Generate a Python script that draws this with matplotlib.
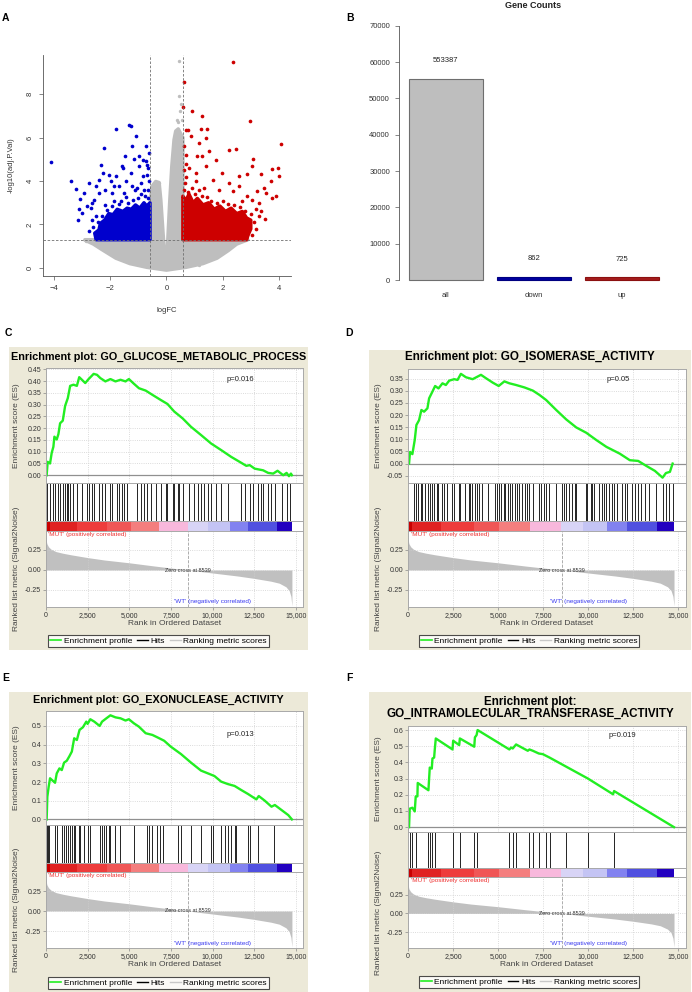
import matplotlib
matplotlib.use("Agg")
import matplotlib.pyplot as plt
from matplotlib.lines import Line2D
from matplotlib.patches import Rectangle

plt.rcParams['font.family'] = ['Liberation Sans', 'DejaVu Sans']

# ---------------- data: volcano (A) ----------------
# outline of the dense grey cloud (logFC, -log10 adj.P)
GRAY_CLOUD_X = [-2.9, -0.585, -0.585, -0.52, -0.38, -0.26, -0.2, -0.12, -0.05, 0.01, 0.06, 0.12, 0.19,
                0.27, 0.33, 0.42, 0.5, 0.585, 0.585, 2.9, 2.8, 2.5, 2.2, 1.8, 1.3, 0.7, 0.0, -0.7,
                -1.3, -1.8, -2.3, -2.6, -2.9]
GRAY_CLOUD_Y = [1.3, 1.3, 2.8, 3.75, 3.98, 3.93, 3.13, 1.6, 0.37, 0.37, 1.6, 3.13, 4.67,
                5.9, 6.3, 6.4, 6.2, 6.0, 1.3, 1.3, 1.25, 1.1, 0.8, 0.45, 0.2, 0.03, -0.1, 0.03,
                0.2, 0.45, 0.85, 1.1, 1.28]
# dense significant blocks
DOWN_CLOUD_X = [-2.5, -2.55, -2.4, -2.35, -2.2, -2.05, -1.9, -1.75, -1.55, -1.4, -1.25, -1.1, -0.95,
                -0.8, -0.7, -0.585, -0.585]
DOWN_CLOUD_Y = [1.3, 1.6, 1.75, 2.05, 2.2, 2.5, 2.45, 2.7, 2.6, 2.75, 2.7, 2.9, 2.75,
                3.0, 2.85, 3.0, 1.3]
UP_CLOUD_X = [0.585, 0.585, 0.7, 0.8, 0.95, 1.1, 1.3, 1.5, 1.7, 1.9, 2.1, 2.3, 2.5, 2.7, 2.85, 3.0,
              3.0, 2.9, 2.85]
UP_CLOUD_Y = [1.3, 3.3, 3.1, 3.4, 3.0, 3.2, 2.9, 3.0, 2.7, 2.85, 2.6, 2.75, 2.5, 2.6, 2.3, 2.2,
              1.8, 1.5, 1.3]
# scattered points outside the dense blocks
DOWN_X = [-4.11, -3.40, -3.22, -3.08, -3.10, -2.93, -2.75, -2.57, -2.84, -2.69, -2.39, -2.33, -2.22,
          -2.27, -2.04, -1.98, -1.86, -1.80, -1.78, -1.59, -1.54, -1.47, -1.33, -1.27, -1.21, -1.15,
          -1.07, -0.97, -0.91, -0.85, -0.73, -0.83, -0.71, -0.68, -0.62, -1.27, -1.45, -1.68, -1.92,
          -2.39, -2.51, -2.99, -3.16, -2.63, -0.97, -1.21, -1.11, -0.79, -1.50, -2.18, -2.51,
          -2.45, -2.3, -2.1, -1.95, -1.7, -1.6, -1.35, -1.2, -1.0, -0.9, -0.75, -0.65, -0.62, -0.66,
          -1.45, -1.85, -2.6, -2.75, -2.65, -2.2, -0.7, -0.65, -1.05]
DOWN_Y = [4.87, 3.98, 3.63, 3.16, 2.70, 3.44, 3.90, 3.13, 2.83, 2.75, 4.06, 4.72, 5.51,
          4.39, 4.29, 3.98, 3.75, 6.39, 4.21, 4.70, 4.59, 5.13, 6.59, 6.54, 5.59, 5.01,
          6.05, 4.67, 3.90, 4.21, 5.59, 4.98, 4.90, 4.75, 5.28, 4.36, 3.98, 3.75, 3.44,
          3.44, 3.75, 2.52, 2.21, 2.98, 5.13, 3.75, 3.59, 3.59, 3.44, 3.59, 2.37,
          2.1, 2.4, 2.65, 2.85, 2.95, 3.1, 3.0, 3.15, 3.2, 3.4, 3.3, 3.6, 4.0, 3.2,
          3.25, 3.1, 1.9, 1.7, 2.2, 2.9, 4.3, 4.6, 3.7]
UP_X = [2.37, 0.63, 0.59, 0.90, 1.26, 2.96, 0.69, 0.78, 1.22, 1.46, 0.86, 1.40, 1.16, 4.06, 2.23,
        2.46, 0.63, 0.69, 1.10, 1.28, 1.75, 3.08, 3.06, 3.77, 3.98, 2.58, 2.88, 3.35, 4.00, 3.71,
        1.97, 1.64, 2.23, 2.35, 3.23, 3.47, 3.53, 3.77, 3.89, 3.29, 3.06, 3.51, 3.35, 2.82, 1.87,
        1.40, 1.04, 1.52, 2.58, 2.88,
        0.62, 0.65, 0.7, 0.75, 0.9, 1.0, 1.15, 1.25, 1.45, 1.6, 1.8, 2.0, 2.2, 2.4, 2.6, 2.8, 3.0,
        3.1, 3.2, 3.05, 0.62, 0.68, 0.8, 1.05, 1.35, 2.7, 3.2, 3.3]
UP_Y = [9.48, 8.54, 7.43, 7.20, 7.00, 6.77, 6.36, 6.36, 6.39, 6.39, 6.05, 5.98, 5.74, 5.70, 5.44,
        5.47, 5.59, 5.21, 5.13, 5.13, 4.98, 5.01, 4.70, 4.55, 4.59, 4.24, 4.33, 4.33, 4.21, 3.98,
        4.36, 4.06, 3.90, 3.52, 3.52, 3.67, 3.44, 3.21, 3.29, 2.98, 3.13, 2.24, 2.60, 1.37, 3.59,
        4.67, 4.36, 5.36, 3.75, 3.29,
        3.6, 3.9, 4.2, 3.5, 3.7, 3.4, 3.6, 3.3, 3.25, 3.1, 3.0, 3.1, 2.95, 2.9, 2.8, 2.6, 2.5,
        2.1, 1.8, 1.5, 4.5, 4.8, 4.6, 4.0, 3.7, 3.1, 2.7, 2.4]
NS_X = [0.45, 0.45, 0.53, 0.39, 0.47, 0.42, 0.55, -2.87, -0.38, -0.28, 2.23, 1.16]
NS_Y = [9.51, 7.90, 7.56, 6.82, 7.2, 6.7, 6.8, 1.26, 3.93, 3.93, 0.98, 0.14]

# ---------------- data: gene counts (B) ----------------
COUNT_GROUPS = ["all", "down", "up"]
COUNT_VALUES = [55338, 862, 725]
COUNT_LABELS = ["553387", "862", "725"]

# ---------------- data: GSEA (C-F) ----------------
N_GENES = 14760
ZERO_CROSS = 8539
RANK_POS = [0, 50, 150, 300, 600, 1000, 1500, 2500, 3500, 5000, 6500, 7500, 8539, 9500, 10500,
            11500, 12500, 13500, 14000, 14400, 14600, 14700, 14760]
RANK_METRIC = [0.39, 0.33, 0.29, 0.26, 0.23, 0.21, 0.19, 0.155, 0.125, 0.09, 0.05, 0.025, 0.0, -0.025,
               -0.05, -0.075, -0.105, -0.14, -0.165, -0.21, -0.26, -0.33, -0.45]
BAND_EDGES = [0, 242, 1853, 3666, 5075, 6787, 8499, 9707, 11017, 12124, 13836, 14760]

C_TITLE = "Enrichment plot: GO_GLUCOSE_METABOLIC_PROCESS"
C_ES_RANK = [40, 101, 242, 342, 443, 504, 644, 745, 846, 1007, 1148, 1309, 1450, 1651, 1853, 1994,
             2155, 2356, 2558, 2860, 3061, 3263, 3565, 3867, 4169, 4471, 4773, 4975, 5277, 5579,
             5982, 6384, 6888, 7291, 7694, 8197, 8701, 9305, 9909, 10513, 11117, 11621, 12024,
             12225, 12527, 13031, 13333, 13635, 13897, 14239, 14441, 14582, 14700, 14760]
C_ES = [0.0, 0.057, 0.05, 0.095, 0.121, 0.164, 0.152, 0.175, 0.221, 0.232, 0.295, 0.328, 0.38, 0.385,
        0.38, 0.417, 0.406, 0.392, 0.409, 0.431, 0.427, 0.413, 0.399, 0.409, 0.399, 0.406, 0.399,
        0.409, 0.389, 0.37, 0.36, 0.342, 0.32, 0.303, 0.271, 0.242, 0.206, 0.171, 0.135, 0.107,
        0.078, 0.057, 0.04, 0.043, 0.028, 0.021, 0.01, 0.007, 0.019, 0.0, 0.01, -0.004, 0.007, 0.0]
C_HITS = [80, 242, 403, 544, 745, 846, 1007, 1148, 1249, 1349, 1450, 1611, 1853, 2155, 2457, 2558,
          2759, 2860, 3162, 3363, 3565, 3867, 3968, 4270, 4370, 4572, 4673, 4874, 5478, 5680, 5881,
          6083, 6284, 6586, 6888, 7190, 7291, 7593, 7694, 7895, 7996, 8198, 8600, 8902, 9103, 9305,
          9506, 9707, 9909, 10211, 10513, 10916, 11721, 11923, 12225, 12426, 12728, 12930, 13031,
          13333, 13534, 13736, 14139, 14441, 14642]
C_P = "p=0.016"

D_TITLE = "Enrichment plot: GO_ISOMERASE_ACTIVITY"
D_ES_RANK = [58, 113, 243, 373, 466, 614, 744, 893, 1078, 1171, 1357, 1505, 1691, 1914, 2100, 2285,
             2563, 2749, 2935, 3213, 3585, 4049, 4327, 4698, 5032, 5348, 5626, 5997, 6461, 6925,
             7296, 7667, 8224, 8781, 9337, 9894, 10451, 11008, 11750, 12307, 12771, 13235, 13699,
             14125, 14311, 14533, 14682]
D_ES = [0.0, 0.048, 0.039, 0.097, 0.159, 0.179, 0.221, 0.214, 0.228, 0.269, 0.297, 0.32, 0.31, 0.331,
        0.324, 0.342, 0.348, 0.345, 0.37, 0.356, 0.348, 0.366, 0.352, 0.334, 0.32, 0.339, 0.331,
        0.324, 0.314, 0.301, 0.283, 0.262, 0.221, 0.182, 0.149, 0.127, 0.097, 0.069, 0.041, 0.014,
        0.011, -0.01, -0.03, -0.058, -0.039, -0.034, 0.0]
D_HITS = [354, 429, 577, 726, 800, 948, 1134, 1227, 1357, 1468, 1598, 1691, 1876, 2025, 2155, 2433,
          2526, 2804, 2897, 3176, 3361, 3454, 3547, 3695, 3825, 3955, 4104, 4438, 4809, 4939, 5032,
          5180, 5310, 5403, 5551, 5681, 5774, 5922, 6052, 6182, 6331, 6479, 6609, 6739, 6925, 7296,
          7407, 7537, 7667, 7816, 8187, 8521, 8651, 8744, 8929, 9113, 9263, 9338, 9857, 9950, 10136,
          10228, 10321, 10600, 10747, 10878, 11008, 11154, 11303, 11435, 11620, 11899, 12047, 12177,
          12456, 12603, 12734, 12919, 13161, 13384, 13755, 14125, 14310, 14497, 14682]
D_P = "p=0.05"

E_TITLE = "Enrichment plot: GO_EXONUCLEASE_ACTIVITY"
E_ES_RANK = [40, 81, 161, 242, 403, 544, 644, 806, 947, 1088, 1249, 1410, 1551, 1692, 1853, 2014,
             2216, 2417, 2497, 2658, 2900, 3222, 3363, 3625, 3867, 4169, 4471, 4773, 4974, 5277,
             5579, 5982, 6384, 6686, 7089, 7492, 8096, 8700, 9305, 9808, 10110, 10513, 10916,
             11319, 11721, 12124, 12627, 12769, 13131, 13534, 13735, 14138, 14541, 14760]
E_ES = [0.0, 0.121, 0.175, 0.22, 0.207, 0.196, 0.246, 0.273, 0.264, 0.304, 0.314, 0.339, 0.363, 0.434,
        0.425, 0.479, 0.493, 0.523, 0.511, 0.536, 0.523, 0.5, 0.523, 0.541, 0.557, 0.546, 0.541,
        0.529, 0.536, 0.514, 0.496, 0.461, 0.452, 0.439, 0.421, 0.389, 0.35, 0.304, 0.261, 0.243,
        0.232, 0.202, 0.189, 0.179, 0.157, 0.136, 0.107, 0.125, 0.1, 0.068, 0.077, 0.05, 0.023, 0.0]
E_HITS = [40, 101, 201, 544, 644, 947, 1088, 1208, 1349, 1450, 1551, 1692, 1752, 1994, 2054, 2256,
          2497, 2618, 3263, 3363, 3464, 3625, 3766, 3867, 4169, 4471, 5277, 6042, 6183, 6384, 6686,
          6848, 7029, 7895, 8096, 8700, 9305, 9909, 10010, 10513, 10714, 10916, 11077, 11319, 11419,
          12124, 12225, 12728, 13695]
E_P = "p=0.013"

F_TITLE = "Enrichment plot:\nGO_INTRAMOLECULAR_TRANSFERASE_ACTIVITY"
F_ES_RANK = [58, 95, 243, 373, 429, 522, 540, 1134, 1171, 1208, 1320, 1357, 1450, 1487, 1542, 2470,
             2507, 2841, 2878, 3676, 3713, 3806, 3862, 5625, 5718, 5811, 5997, 6646, 6739, 6925,
             7259, 7482, 7853, 9987, 11379, 11435, 14757]
F_ES = [0.0, 0.114, 0.12, 0.097, 0.19, 0.19, 0.273, 0.228, 0.3, 0.368, 0.362, 0.424, 0.43, 0.482,
        0.548, 0.48, 0.534, 0.507, 0.548, 0.497, 0.555, 0.569, 0.6, 0.48, 0.492, 0.486, 0.511,
        0.472, 0.48, 0.472, 0.455, 0.451, 0.43, 0.3, 0.203, 0.223, 0.0]
F_HITS = [113, 243, 429, 1134, 1208, 1357, 1505, 2470, 2879, 3676, 3806, 5625, 5811, 5997, 6702,
          6925, 7259, 7667, 7890, 8781, 9987, 11416]
F_P = "p=0.019"

# ---------------- layout / style ----------------
W, H = 692, 992
BEIGE = "#ECE9D8"
ES_GREEN = "#22EE22"
BAND_COLORS = ["#C80000", "#E02222", "#EE3C3C", "#F05656", "#F47E7E", "#F8B8DC", "#D8D4F6",
               "#C4C4F4", "#8282F0", "#5050E0", "#2200C0"]
X_MAX = 15425
X_TICKS = [0, 2500, 5000, 7500, 10000, 12500, 15000]

fig = plt.figure(figsize=(W / 100, H / 100), dpi=100)


def px_axes(x0, y0, x1, y1):
    return fig.add_axes([x0 / W, 1 - y1 / H, (x1 - x0) / W, (y1 - y0) / H])


def gsea_frame(ax):
    for s in ax.spines.values():
        s.set_color("#A8A8A8")
        s.set_linewidth(0.7)
    ax.set_xlim(0, X_MAX)
    ax.tick_params(length=2, width=0.5, color="#888888", labelsize=5, labelcolor="#333333", pad=1.5)


def draw_gsea(lay, title, es_rank, es_val, hits, es_ylim, es_ticks, fmt, ptxt, pxy):
    bx0, by0, bx1, by1 = lay["box"]
    fig.patches.append(Rectangle((bx0 / W, 1 - by1 / H), (bx1 - bx0) / W, (by1 - by0) / H,
                                 transform=fig.transFigure, facecolor=BEIGE, edgecolor="none",
                                 zorder=-5))
    fig.text((bx0 + bx1) / 2 / W, 1 - lay["title_y"] / H, title, ha="center", va="center",
             fontsize=lay["title_fs"], fontweight="bold", linespacing=1.05)
    x0, x1 = lay["x"]
    width = x1 - x0
    lab_x = -(x0 - lay["ylab_x"]) / width

    ax = px_axes(x0, lay["es"][0], x1, lay["es"][1])
    gsea_frame(ax)
    ax.grid(True, ls=":", color="#CFCFCF", lw=0.6)
    ax.axhline(0, color="#909090", lw=0.9)
    ax.plot(es_rank, es_val, color=ES_GREEN, lw=1.7, solid_joinstyle="round")
    ax.set_ylim(*es_ylim)
    ax.set_yticks(es_ticks)
    ax.set_yticklabels([fmt.format(t) for t in es_ticks])
    ax.set_xticks(X_TICKS)
    ax.set_xticklabels([])
    ax.tick_params(axis="x", length=0)
    ax.set_ylabel("Enrichment score (ES)", fontsize=6, color="#444444")
    ax.yaxis.set_label_coords(lab_x, 0.5)
    ax.text(pxy[0], pxy[1], ptxt, transform=ax.transAxes, ha="center", va="center", fontsize=5.5,
            color="#222222")

    axh = px_axes(x0, lay["es"][1], x1, lay["hit"])
    gsea_frame(axh)
    axh.vlines(hits, 0, 1, colors="black", lw=0.6)
    axh.set_ylim(0, 1)
    axh.set_xticks([])
    axh.set_yticks([])

    axc = px_axes(x0, lay["hit"], x1, lay["cb"])
    gsea_frame(axc)
    for i, c in enumerate(BAND_COLORS):
        axc.axvspan(BAND_EDGES[i], BAND_EDGES[i + 1], color=c, lw=0)
    axc.set_xticks([])
    axc.set_yticks([])

    axr = px_axes(x0, lay["cb"], x1, lay["rk"])
    gsea_frame(axr)
    axr.grid(True, ls=":", color="#CFCFCF", lw=0.6)
    axr.fill_between(RANK_POS, RANK_METRIC, 0, color="#C0C0C0", lw=0)
    axr.axvline(ZERO_CROSS, ls="--", color="#A0A0A0", lw=0.6)
    axr.set_ylim(-0.4625, 0.4875)
    axr.set_yticks([-0.25, 0.0, 0.25])
    axr.set_yticklabels(["-0.25", "0.00", "0.25"])
    axr.set_xticks(X_TICKS)
    axr.set_xticklabels(["{:,}".format(t) for t in X_TICKS])
    axr.set_xlabel("Rank in Ordered Dataset", fontsize=6, color="#444444", labelpad=1)
    axr.set_ylabel("Ranked list metric (Signal2Noise)", fontsize=6, color="#444444")
    axr.yaxis.set_label_coords(lab_x, 0.5)
    axr.text(ZERO_CROSS, 0.0, "Zero cross at 8539", ha="center", va="center", fontsize=4,
             color="#333333")
    axr.text(150, 0.44, "'MUT' (positively correlated)", ha="left", va="center", fontsize=4.6,
             color="#EE3030")
    axr.text(10000, -0.40, "'WT' (negatively correlated)", ha="center", va="center", fontsize=4.6,
             color="#3A3AF0")

    handles = [Line2D([], [], color=ES_GREEN, lw=1.2), Line2D([], [], color="black", lw=1.0),
               Line2D([], [], color="#C8C8C8", lw=1.0)]
    leg = fig.legend(handles, ["Enrichment profile", "Hits", "Ranking metric scores"], ncol=3,
                     loc="center", bbox_to_anchor=(lay["leg"][0] / W, 1 - lay["leg"][1] / H),
                     fontsize=6, frameon=True, fancybox=False, handlelength=1.3, handletextpad=0.3,
                     columnspacing=0.6, borderpad=0.25)
    leg.get_frame().set_edgecolor("#222222")
    leg.get_frame().set_linewidth(0.8)


# ---------------- panel A: volcano ----------------
axa = px_axes(43, 55, 291, 276)
axa.fill(GRAY_CLOUD_X, GRAY_CLOUD_Y, facecolor="#BEBEBE", edgecolor="#BEBEBE", lw=2.5,
         joinstyle="round", zorder=1)
axa.fill(DOWN_CLOUD_X, DOWN_CLOUD_Y, facecolor="#0000CD", edgecolor="#0000CD", lw=2.5,
         joinstyle="round", zorder=2)
axa.fill(UP_CLOUD_X, UP_CLOUD_Y, facecolor="#CD0000", edgecolor="#CD0000", lw=2.5,
         joinstyle="round", zorder=2)
axa.scatter(NS_X, NS_Y, s=6, color="#BEBEBE", lw=0, zorder=2)
axa.scatter(DOWN_X, DOWN_Y, s=7, color="#0000CD", lw=0, zorder=3)
axa.scatter(UP_X, UP_Y, s=7, color="#CD0000", lw=0, zorder=3)
for xv in (-0.585, 0.585):
    axa.axvline(xv, ls=(0, (3, 2)), color="#707070", lw=0.6, zorder=4)
axa.axhline(1.3, ls=(0, (3, 2)), color="#707070", lw=0.6, zorder=4)
axa.set_xlim(-4.39, 4.43)
axa.set_ylim(-0.37, 9.8)
axa.spines["top"].set_visible(False)
axa.spines["right"].set_visible(False)
for s in ("left", "bottom"):
    axa.spines[s].set_color("#555555")
    axa.spines[s].set_linewidth(0.6)
axa.set_xticks([-4, -2, 0, 2, 4])
axa.set_yticks([0, 2, 4, 6, 8])
axa.tick_params(length=3, width=0.5, color="#555555", labelsize=5.5, labelcolor="#333333")
plt.setp(axa.get_yticklabels(), rotation=90, va="center")
axa.set_xlabel("logFC", fontsize=5.5, color="#333333")
axa.xaxis.set_label_coords(0.5, -(307 - 276) / 221)
axa.set_ylabel("-log10(adj.P.Val)", fontsize=5.5, color="#333333")
axa.yaxis.set_label_coords(-(43 - 15) / 248, 0.5)

# ---------------- panel B: gene counts ----------------
axb = px_axes(399, 15.5, 669, 290.2)
bar_x = [0.7, 1.9, 3.1]
axb.bar(bar_x, COUNT_VALUES, width=1.0, color=["#BEBEBE", "#0000A0", "#A51C1C"],
        edgecolor=["#6E6E6E", "#000080", "#8B1010"], lw=0.8)
for xv, v, lab in zip(bar_x, COUNT_VALUES, COUNT_LABELS):
    axb.text(xv, v + 5000, lab, ha="center", va="center", fontsize=5.5, color="#222222")
axb.set_xlim(0.064, 3.736)
axb.set_ylim(-2800, 72800)
axb.set_yticks(range(0, 70001, 10000))
axb.set_xticks(bar_x)
axb.set_xticklabels(COUNT_GROUPS)
for s in ("top", "right", "bottom"):
    axb.spines[s].set_visible(False)
axb.spines["left"].set_bounds(0, 70000)
axb.spines["left"].set_color("#555555")
axb.spines["left"].set_linewidth(0.6)
axb.tick_params(axis="y", length=3, width=0.5, color="#555555", labelsize=5.5, labelcolor="#333333")
axb.tick_params(axis="x", length=0, labelsize=5.5, labelcolor="#333333", pad=1.5)
fig.text(533 / W, 1 - 5 / H, "Gene Counts", ha="center", va="center", fontsize=6.5,
         fontweight="bold", color="#222222")

# ---------------- panels C-F ----------------
LAY_C = dict(box=(9, 347, 308, 650), title_y=357, title_fs=7.8, x=(46, 303), es=(368, 483),
             hit=521, cb=531, rk=607, ylab_x=20, leg=(158.5, 641))
LAY_D = dict(box=(369, 350, 691, 650), title_y=357, title_fs=8.4, x=(408, 686), es=(369, 483),
             hit=521, cb=531, rk=607, ylab_x=382, leg=(529, 641))
LAY_E = dict(box=(9, 692, 308, 992), title_y=700, title_fs=7.8, x=(46, 303), es=(711, 825),
             hit=863, cb=872, rk=948, ylab_x=20, leg=(158.5, 983))
LAY_F = dict(box=(369, 692, 691, 992), title_y=708, title_fs=8.4, x=(408, 686), es=(726, 832),
             hit=868, cb=877, rk=948, ylab_x=382, leg=(529, 982))

draw_gsea(LAY_C, C_TITLE, C_ES_RANK, C_ES, C_HITS, (-0.033, 0.456),
          [0.0, 0.05, 0.1, 0.15, 0.2, 0.25, 0.3, 0.35, 0.4, 0.45], "{:.2f}", C_P, (0.755, 0.9))
draw_gsea(LAY_D, D_TITLE, D_ES_RANK, D_ES, D_HITS, (-0.08, 0.39),
          [-0.05, 0.0, 0.05, 0.1, 0.15, 0.2, 0.25, 0.3, 0.35], "{:.2f}", D_P, (0.755, 0.91))
draw_gsea(LAY_E, E_TITLE, E_ES_RANK, E_ES, E_HITS, (-0.03, 0.58),
          [0.0, 0.1, 0.2, 0.3, 0.4, 0.5], "{:.1f}", E_P, (0.757, 0.79))
draw_gsea(LAY_F, F_TITLE, F_ES_RANK, F_ES, F_HITS, (-0.03, 0.625),
          [0.0, 0.1, 0.2, 0.3, 0.4, 0.5, 0.6], "{:.1f}", F_P, (0.77, 0.915))

for lab, (xp, yp) in zip("ABCDEF", [(5, 18), (350, 18), (8, 333), (349, 333), (6, 678), (349, 678)]):
    fig.text(xp / W, 1 - yp / H, lab, ha="center", va="center", fontsize=7.5, fontweight="bold")

fig.savefig("out.png", dpi=100)
